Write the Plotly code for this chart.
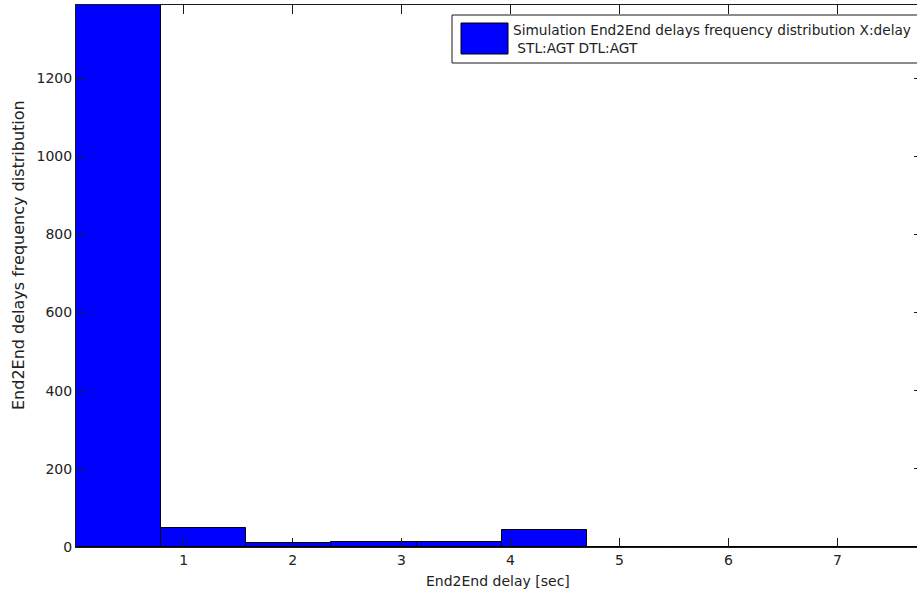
import plotly.graph_objects as go

# Histogram of end-to-end delays (10 equal-width bins)
bin_start = 0.012
bin_width = 0.7815
counts = [1387, 49, 9, 13, 13, 44, 0, 0, 0, 0]
series_name = "Simulation End2End delays frequency distribution X:delay<br> STL:AGT DTL:AGT"
x_title = "End2End delay [sec]"
y_title = "End2End delays frequency distribution"
x_ticks = [1, 2, 3, 4, 5, 6, 7]
y_ticks = [0, 200, 400, 600, 800, 1000, 1200]

centers = [bin_start + (i + 0.5) * bin_width for i in range(len(counts))]

W, H = 917, 593
M_L, M_R, M_T, M_B = 76, 0, 5, 46
FONT = "DejaVu Sans"
AXIS_COLOR = "#1a1a1a"
TEXT_COLOR = "#222222"
TICK_FONT = dict(family=FONT, size=14, color=TEXT_COLOR)

fig = go.Figure()
fig.add_trace(go.Bar(
    x=centers, y=counts, width=bin_width,
    marker=dict(color="#0000ff", line=dict(color="#000000", width=1)),
    name=series_name, showlegend=False,
))

# invisible trace hosting the right-hand tick marks
fig.add_trace(go.Scatter(x=[centers[0]], y=[0], yaxis="y2", mode="markers",
                         marker=dict(opacity=0), showlegend=False, hoverinfo="skip"))

x_range = [bin_start, 7.731]
y_range = [0, max(counts)]

fig.update_layout(
    width=W, height=H,
    margin=dict(l=M_L, r=M_R, t=M_T, b=M_B, pad=0),
    paper_bgcolor="white", plot_bgcolor="white",
    font=dict(family=FONT, size=14, color=TEXT_COLOR),
    bargap=0,
    xaxis=dict(
        range=x_range, tickvals=x_ticks, ticks="inside", ticklen=9,
        tickcolor=AXIS_COLOR, showline=True, linecolor=AXIS_COLOR, linewidth=1,
        mirror="ticks", showgrid=False, zeroline=False, tickfont=TICK_FONT,
    ),
    yaxis=dict(
        range=y_range, tickvals=y_ticks, ticks="inside", ticklen=9,
        tickcolor=AXIS_COLOR, showline=True, linecolor=AXIS_COLOR, linewidth=1,
        showgrid=False, zeroline=False, tickfont=TICK_FONT,
    ),
    yaxis2=dict(
        range=y_range, tickvals=y_ticks, overlaying="y", side="right",
        anchor="x", ticks="inside", ticklen=3, tickcolor=AXIS_COLOR,
        showticklabels=False, showgrid=False, zeroline=False, showline=False,
    ),
)

# Pixel-space helpers for the decorations, converted to paper coordinates
pw = W - M_L - M_R
ph = H - M_T - M_B


def px(xp):
    return (xp - M_L) / pw


def py(yp):
    return (H - M_B - yp) / ph


# axis titles
fig.add_annotation(xref="paper", yref="paper", x=px(498), y=py(581),
                   xanchor="center", yanchor="middle", text=x_title,
                   showarrow=False, font=dict(family=FONT, size=14, color=TEXT_COLOR))
fig.add_annotation(xref="paper", yref="paper", x=px(19), y=py(255),
                   xanchor="center", yanchor="middle", text=y_title, textangle=-90,
                   showarrow=False, font=dict(family=FONT, size=16, color=TEXT_COLOR))

# legend box
fig.add_shape(type="rect", xref="paper", yref="paper",
              x0=px(452), x1=px(940), y0=py(63), y1=py(15),
              line=dict(color=AXIS_COLOR, width=1), fillcolor="white")
fig.add_shape(type="rect", xref="paper", yref="paper",
              x0=px(461), x1=px(508), y0=py(54), y1=py(23),
              line=dict(color="#000000", width=1), fillcolor="#0000ff")
fig.add_annotation(xref="paper", yref="paper", x=px(511), y=py(38.5),
                   xanchor="left", yanchor="middle", align="left",
                   text=series_name, showarrow=False,
                   font=dict(family=FONT, size=13.7, color=TEXT_COLOR))

fig.write_html("out.html")
